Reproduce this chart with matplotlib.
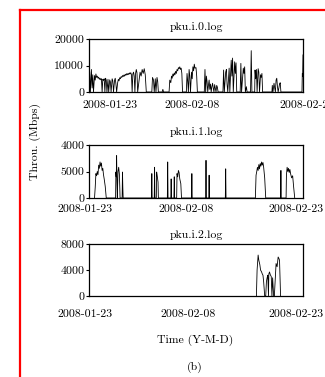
import matplotlib
matplotlib.use("Agg")
import matplotlib.pyplot as plt
from matplotlib.lines import Line2D
from matplotlib.transforms import ScaledTranslation

plt.rcParams['font.family'] = ['cmr10', 'DejaVu Serif']
plt.rcParams['axes.unicode_minus'] = False
plt.rcParams['mathtext.fontset'] = 'cm'

# ---------------- data (days since 2008-01-23, throughput) ----------------
titles = ["pku.i.0.log", "pku.i.1.log", "pku.i.2.log"]
xtick_days = [0, 16, 31]
xtick_labels = ["2008-01-23", "2008-02-08", "2008-02-23"]
xtick_labels_top = ["2008-01-23", "2008-02-08", "2008-02-2"]

ytick_vals0 = [0, 10000, 20000]
ytick_labels0 = ["0", "10000", "20000"]
ytick_vals1 = [0, 5000, 10000]
ytick_labels1 = ["0", "5000", "4000"]
ytick_vals2 = [0, 4000, 8000]
ytick_labels2 = ["0", "4000", "8000"]

days0 = [0.00, 0.10, 0.20, 0.35, 0.45, 0.55, 0.65, 0.80, 0.90, 1.00, 1.10, 1.20, 1.30, 1.40,
         1.50, 1.60, 1.70, 1.80, 1.90, 2.00, 2.10, 2.20, 2.30, 2.40, 2.50, 2.60, 2.75, 2.85,
         3.00, 3.10, 3.20, 3.35, 3.45, 3.55, 3.70, 3.80, 3.90, 4.00, 4.15, 4.25, 4.35, 4.45,
         4.55, 4.65, 4.75, 4.85, 4.95, 5.05, 5.15, 5.25, 5.35, 5.45, 5.55, 5.65, 5.75, 5.85,
         5.95, 6.05, 6.15, 6.25, 6.35, 6.45, 6.55, 6.65, 6.75, 6.85, 6.95, 7.05,
         7.40, 7.55, 7.70, 7.85, 8.00, 8.15, 8.30,
         9.10, 9.20, 9.35, 9.45, 9.60, 9.70, 9.85, 9.95, 10.05,
         10.60, 10.70, 10.80,
         11.60, 11.70, 11.85, 11.95, 12.05, 12.15, 12.25, 12.35, 12.45, 12.55, 12.65, 12.75,
         12.85, 12.95, 13.05, 13.15, 13.25, 13.35, 13.45, 13.55,
         14.10, 14.20, 14.30, 14.40, 14.50, 14.60, 14.70, 14.85, 14.95, 15.05, 15.15, 15.25,
         15.35, 15.50, 15.60, 15.70,
         16.70, 16.80, 16.90, 17.00, 17.10, 17.20, 17.30, 17.40, 17.50, 17.60, 17.70, 17.80,
         17.90, 18.00, 18.10, 18.20, 18.30, 18.40, 18.50, 18.60, 18.70,
         19.40, 19.50, 19.60, 19.80, 19.90, 20.00, 20.10, 20.30, 20.40, 20.60, 20.70, 20.80,
         20.90, 21.10, 21.20, 21.30, 21.40,
         21.90, 22.00, 22.10, 22.35, 22.45, 22.55, 22.65, 22.80, 22.90,
         23.40, 23.50, 23.60,
         24.00, 24.05, 24.15, 24.25, 24.35, 24.50, 24.60, 24.70, 24.85, 24.95, 25.05, 25.15,
         26.50, 26.55, 26.65, 26.80, 26.90, 27.00, 27.10, 27.20, 27.30, 27.40, 27.60, 27.70, 27.80,
         30.85, 30.90, 30.95, 31.00]
vals0 = [10000, 7500, 0, 8500, 1500, 6500, 0, 6200, 4500, 6800, 5500, 6000, 5200, 5600,
         4800, 5200, 4600, 5000, 0, 4800, 4400, 5000, 0, 5200, 4500, 0, 4800, 0,
         4600, 3800, 0, 5000, 4200, 0, 4400, 5200, 3000, 0, 3500, 4800, 4200, 5400,
         5000, 5800, 5500, 6200, 5800, 6400, 6000, 6700, 6300, 6900, 6500, 7000, 6600, 7200,
         6800, 7300, 6500, 0, 6800, 7500, 6000, 0, 7000, 8500, 7200, 0,
         7500, 6000, 8500, 7000, 8800, 6500, 0,
         0, 5500, 4500, 0, 5000, 0, 5500, 4000, 0,
         0, 1000, 0,
         0, 4500, 3500, 6000, 5200, 6800, 6000, 7200, 6500, 7800, 7000, 8500,
         8000, 9200, 8800, 9500, 8500, 9000, 7000, 0,
         0, 7000, 4000, 0, 8500, 6000, 0, 7500, 5000, 9500, 8000, 10500,
         9000, 9200, 6000, 0,
         0, 8500, 0, 6000, 4000, 0, 2500, 4500, 1000, 3000, 0, 2000,
         3300, 1500, 0, 2800, 1500, 0, 2500, 1800, 0,
         0, 8300, 0, 7500, 8500, 3000, 0, 9000, 0, 12000, 6000, 12800,
         0, 11400, 7000, 11000, 0,
         0, 10800, 0, 9000, 7000, 9500, 0, 2000, 0,
         0, 15600, 0,
         0, 8300, 5000, 8500, 0, 8800, 7500, 0, 6500, 5500, 7000, 0,
         0, 2500, 0, 3300, 1500, 0, 4500, 5200, 2000, 0, 3000, 3500, 0,
         0, 7000, 6000, 14000]

days1 = [0.80, 0.90, 1.00, 1.10, 1.20, 1.30, 1.40, 1.50, 1.60, 1.70, 1.80, 1.90, 2.00, 2.10,
         2.20, 2.35, 2.50,
         3.85, 3.90, 3.95, 4.00, 4.05, 4.10, 4.20, 4.30, 4.40, 4.45, 4.50, 4.80, 4.85, 4.90, 4.95,
         9.05, 9.10, 9.15, 9.45, 9.50, 9.55, 9.75, 9.80, 9.90, 10.00, 10.05,
         11.35, 11.40, 11.45, 11.85, 11.90, 11.95, 12.30, 12.35, 12.40, 12.70, 12.75, 12.85,
         12.95, 13.05, 13.15, 13.30, 13.40,
         14.85, 14.90, 14.95,
         16.90, 16.95, 17.00, 17.35, 17.40, 17.45,
         19.75, 19.80, 19.85,
         24.10, 24.20, 24.30, 24.40, 24.50, 24.60, 24.70, 24.80, 24.90, 25.00, 25.10, 25.20,
         25.30, 25.45, 25.60,
         27.75, 27.80, 27.85,
         28.55, 28.60, 28.70, 28.80, 28.90, 29.00, 29.10, 29.20, 29.35, 29.50, 29.65, 29.80]
vals1 = [0, 2000, 4600, 4200, 5000, 4400, 6200, 5600, 6800, 6000, 6600, 5200, 5600, 4400,
         3600, 2200, 0,
         0, 4900, 4000, 8000, 3000, 0, 5000, 5800, 4500, 2400, 0, 0, 4900, 2000, 0,
         0, 4600, 0, 0, 5800, 0, 0, 4900, 4000, 3000, 0,
         0, 6800, 0, 0, 3600, 0, 0, 4000, 0, 0, 4600, 4000,
         5200, 4800, 3600, 2700, 0,
         0, 4600, 0,
         0, 7100, 0, 0, 4300, 0,
         0, 5500, 0,
         0, 4300, 5000, 5800, 5200, 6300, 5500, 6500, 6000, 6800, 6200, 6700,
         5800, 3800, 0,
         0, 5200, 0,
         0, 4300, 5800, 5000, 5600, 4800, 5400, 4600, 3800, 4200, 2000, 0]

days2 = [24.25, 24.35, 24.50, 24.60, 24.75, 24.85, 25.00, 25.10, 25.20, 25.30, 25.45,
         25.60, 25.70, 25.80, 25.90, 26.00, 26.05, 26.15, 26.25, 26.40, 26.50, 26.60, 26.75,
         26.85, 26.95, 27.10, 27.25, 27.40, 27.50, 27.60, 27.75]
vals2 = [0, 4000, 6300, 5500, 4800, 4000, 3700, 3400, 3200, 2200, 0,
         0, 2200, 2800, 3200, 0, 3400, 3700, 3300, 3000, 0, 2800, 0,
         0, 2000, 5000, 4500, 6000, 5800, 5500, 0]

series = [(days0, vals0), (days1, vals1), (days2, vals2)]
yticks = [(ytick_vals0, ytick_labels0, 20000), (ytick_vals1, ytick_labels1, 10000),
          (ytick_vals2, ytick_labels2, 8000)]

# ---------------- figure ----------------
W, H = 325, 377
fig = plt.figure(figsize=(W / 100, H / 100), dpi=100)

boxes = [(89, 39, 303, 92), (89, 145, 303, 198), (89, 244, 303, 296)]
title_dy = [8.5, 9.5, 6.5]
xpad = [6, 5, 10]
xoffsets = [[21, -7, 1], [-4, -13, -7], [-4, -11, -7]]
fs = 8.5

for i, ((l, t, r, b), (dd, vv), (yv, yl, ymax)) in enumerate(zip(boxes, series, yticks)):
    ax = fig.add_axes([l / W, 1 - b / H, (r - l) / W, (b - t) / H])
    ax.plot(dd, vv, color='black', lw=0.6)
    ax.set_xlim(0, 31)
    ax.set_ylim(0, ymax)
    ax.set_yticks(yv)
    ax.set_yticklabels(yl, fontsize=fs)
    ax.set_xticks(xtick_days)
    ax.set_xticklabels(xtick_labels_top if i == 0 else xtick_labels, fontsize=fs)
    ax.tick_params(axis='y', length=2, width=0.8, pad=1.5, direction='out')
    ax.tick_params(axis='x', length=0, pad=xpad[i])
    for s in ax.spines.values():
        s.set_linewidth(0.9)
    for lab, dx in zip(ax.get_xticklabels(), xoffsets[i]):
        lab.set_transform(lab.get_transform() + ScaledTranslation(dx / 100, 0, fig.dpi_scale_trans))
    ax.annotate(titles[i], xy=(0.5, 1.0), xycoords='axes fraction',
                xytext=(0, title_dy[i]), textcoords='offset points',
                ha='center', va='center', fontsize=fs)

fig.text(35 / W, 1 - 142 / H, "Throu. (Mbps)", rotation=90, ha='center', va='center', fontsize=fs)
fig.text(195 / W, 1 - 340 / H, "Time (Y-M-D)", ha='center', va='center', fontsize=fs)
fig.text(195 / W, 1 - 367 / H, "(b)", ha='center', va='center', fontsize=fs)

# red frame (top and left edges)
fig.add_artist(Line2D([20 / W, 1.0], [1 - 10 / H, 1 - 10 / H], color='red', lw=1.6,
                      transform=fig.transFigure))
fig.add_artist(Line2D([20 / W, 20 / W], [1 - 10 / H, 0.0], color='red', lw=1.6,
                      transform=fig.transFigure))

fig.savefig("out.png", dpi=100)
